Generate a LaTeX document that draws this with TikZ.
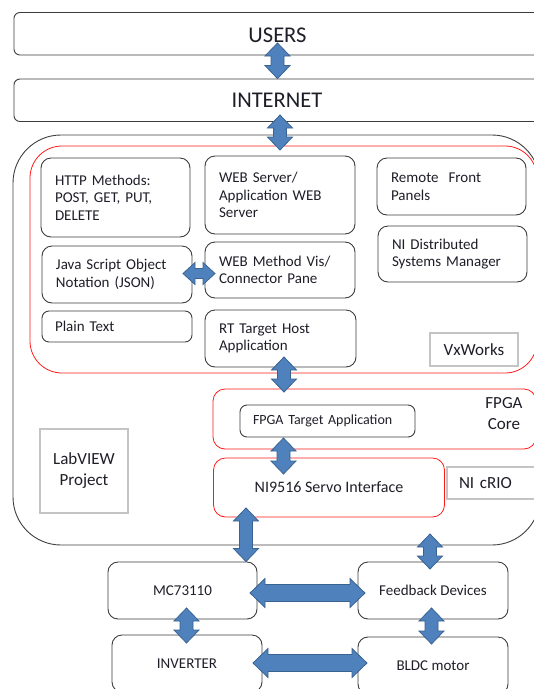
\documentclass[tikz,border=0pt]{standalone}
\usepackage{fontspec}
\setmainfont{Carlito}
\usepackage{xcolor}
\usepackage{tikz}
\usetikzlibrary{calc}
\definecolor{ink}{HTML}{1E1E28}
\definecolor{boxline}{HTML}{3C3C3C}
\definecolor{frameline}{HTML}{404040}
\definecolor{redline}{HTML}{FF1A1A}
\definecolor{grayline}{HTML}{C4C4C4}
\definecolor{arrfill}{HTML}{4F81BD}
\definecolor{arredge}{HTML}{3A6392}
\tikzset{
  frame/.style={draw=frameline, line width=0.9pt, rounded corners=48pt},
  redframe/.style={draw=redline, line width=0.8pt, rounded corners=12pt},
  band/.style={draw=boxline, line width=0.9pt, rounded corners=6pt},
  bandtxt/.style={text=ink, font=\fontsize{22.5}{26}\selectfont},
  box/.style={draw=boxline, line width=0.9pt, rounded corners=10pt, text=ink,
    font=\fontsize{15}{17.5}\selectfont, inner ysep=0pt},
  lbox/.style={box, align=left, inner xsep=14pt},
  cbox/.style={box, align=center, inner xsep=0pt},
  tag/.style={draw=grayline, line width=1.3pt, text=ink,
    font=\fontsize{17}{21}\selectfont, inner sep=0pt},
  lbl/.style={text=ink, font=\fontsize{17}{21}\selectfont},
  arr head/.store in=\arrhl, arr width/.store in=\arrhw, arr shaft/.store in=\arrsw,
  arr head=13pt, arr width=12.5pt, arr shaft=6.5pt,
  dblarrow/.style={fill=arrfill, draw=arredge, line width=0.8pt, line join=miter,
    to path={let \p1=(\tikztostart), \p2=(\tikztotarget),
      \p3=($(\p1)!\arrhl!(\p2)$), \p4=($(\p2)!\arrhl!(\p1)$) in
      -- ($(\p3)!\arrhw!90:(\p2)$) -- ($(\p3)!\arrsw!90:(\p2)$)
      -- ($(\p4)!\arrsw!-90:(\p1)$) -- ($(\p4)!\arrhw!-90:(\p1)$)
      -- (\p2)
      -- ($(\p4)!\arrhw!90:(\p1)$) -- ($(\p4)!\arrsw!90:(\p1)$)
      -- ($(\p3)!\arrsw!-90:(\p2)$) -- ($(\p3)!\arrhw!-90:(\p2)$)
      -- cycle}},
  bigarrow/.style={dblarrow, arr head=15pt, arr width=14.5pt, arr shaft=8.5pt},
  thinarrow/.style={dblarrow, arr head=12pt, arr width=11pt, arr shaft=5pt},
}

\begin{document}
\begin{tikzpicture}[x=1pt,y=-1pt]
  \useasboundingbox (0,0) rectangle (534,689);

  % top bands
  \node[band, anchor=west, minimum width=547pt, minimum height=42.5pt] (users) at (13.5,33.75) {};
  \node[bandtxt] (userstxt) at (277.5,35) {USERS};
  \node[band, anchor=west, minimum width=547pt, minimum height=42.5pt] (internet) at (13.5,100.25) {};
  \node[bandtxt] (internettxt) at (277,100.5) {INTERNET};

  % cRIO frame and VxWorks frame
  \node[frame, minimum width=527pt, minimum height=410pt] (rio) at (276.5,340) {};
  \node[redframe, rounded corners=32pt, minimum width=507pt, minimum height=227pt] (vx) at (283.5,259.5) {};

  % VxWorks side
  \node[lbox, text width=121pt, minimum height=79pt] (http) at (115.5,197.5) {HTTP Methods:\\POST, GET, PUT,\\DELETE};
  \node[lbox, text width=122pt, minimum height=78pt] (websrv) at (280,195) {WEB Server/\\Application WEB\\Server};
  \node[lbox, text width=121pt, minimum height=57pt] (remote) at (451.5,186.5) {Remote\ \ Front\\Panels};
  \node[lbox, text width=121pt, minimum height=56pt] (nids) at (452.5,254) {NI Distributed\\Systems Manager};
  \node[lbox, text width=122pt, minimum height=57pt] (json) at (117,274.5) {Java Script Object\\Notation (JSON)};
  \node[lbox, text width=122pt, minimum height=56pt] (webm) at (280,270) {WEB Method Vis/\\Connector Pane};
  \node[lbox, inner xsep=13pt, text width=124pt, minimum height=31pt, rounded corners=7pt] (plain) at (117,326.5) {Plain Text};
  \node[lbox, text width=123pt, minimum height=57pt] (rthost) at (280.5,338.5) {RT Target Host\\Application};
  \node[tag, minimum width=88pt, minimum height=33pt] (vxworks) at (474,349.5) {VxWorks};

  % FPGA and I/O module
  \node[redframe, minimum width=323pt, minimum height=60pt] (fpga) at (374.5,419) {};
  \node[lbl, align=center] (fpgalbl) at (504,414) {FPGA\\Core};
  \node[lbox, inner xsep=13pt, text width=149pt, minimum height=32pt, rounded corners=7pt,
    font=\fontsize{14}{16}\selectfont] (fpgatgt) at (327.5,421) {FPGA Target Application};
  \node[redframe, text=ink, font=\fontsize{16}{19}\selectfont,
    minimum width=231pt, minimum height=59pt] (servo) at (329,487.5) {NI9516 Servo Interface};
  \node[tag, align=left, inner xsep=12pt, text width=74pt, minimum height=32pt] (crio) at (496,483) {NI cRIO};
  \node[tag, align=center, minimum width=88pt, minimum height=84pt] (labview) at (84,471) {LabVIEW\\Project};

  % drive hardware
  \node[cbox, minimum width=149pt, minimum height=57pt] (mc) at (182.5,590.5) {MC73110};
  \node[cbox, minimum width=150pt, minimum height=57pt] (feedback) at (433,590.5) {Feedback Devices};
  \node[cbox, minimum width=150pt, minimum height=57pt] (inverter) at (187,663.5) {INVERTER};
  \node[cbox, minimum width=150pt, minimum height=57pt] (bldc) at (433,665.5) {BLDC motor};

  % arrow ends
  \coordinate (usersArr) at (277.5,43);
  \coordinate (netArr) at (280,115);
  \coordinate (vxTop) at (280,150);
  \coordinate (jsonR) at (183,273.5);
  \coordinate (webmL) at (215,273.5);
  \coordinate (rtB) at (284,357);
  \coordinate (fpgaT) at (284,392);
  \coordinate (tgtB) at (283.5,438);
  \coordinate (servoT) at (283.5,474);
  \coordinate (servoB) at (246,508);
  \coordinate (rioB) at (430,534);
  \coordinate (feedbackT) at (430,569);
  \coordinate (mcR) at (250,593);
  \coordinate (feedbackL) at (365,593);
  \coordinate (mcB) at (186.5,608);
  \coordinate (inverterT) at (186.5,643);
  \coordinate (feedbackB) at (431.5,608);
  \coordinate (bldcT) at (431.5,644);
  \coordinate (inverterR) at (253,663);
  \coordinate (bldcL) at (367,663);

  % block arrows
  \draw[dblarrow] (usersArr) to (usersArr |- internet.north);
  \draw[dblarrow] (netArr) to (vxTop);
  \draw[thinarrow] (jsonR) to (webmL);
  \draw[dblarrow] (rtB) to (fpgaT);
  \draw[dblarrow] (tgtB) to (servoT);
  \draw[dblarrow] (servoB) to (servoB |- mc.north);
  \draw[dblarrow] (rioB) to (feedbackT);
  \draw[bigarrow] (mcR) to (feedbackL);
  \draw[dblarrow] (mcB) to (inverterT);
  \draw[dblarrow] (feedbackB) to (bldcT);
  \draw[bigarrow] (inverterR) to (bldcL);
\end{tikzpicture}
\end{document}
